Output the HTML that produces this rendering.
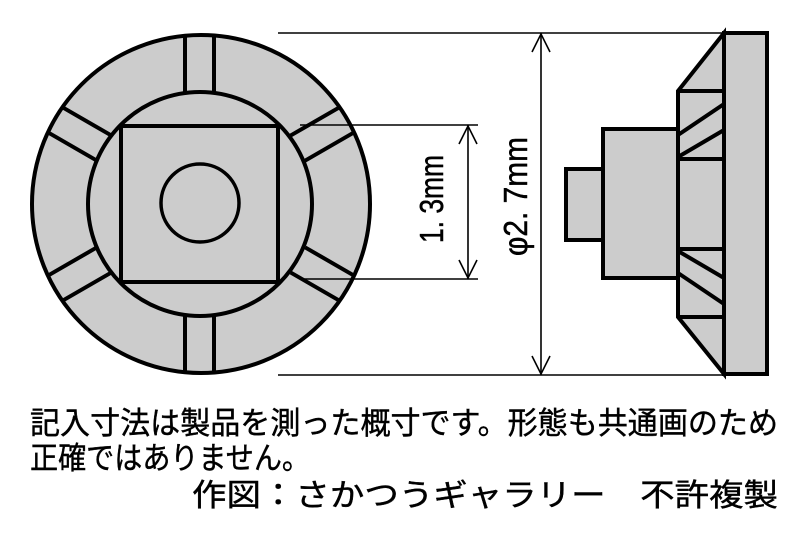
<!DOCTYPE html>
<html><head><meta charset="utf-8"><style>html,body{margin:0;padding:0;background:#fff}svg{display:block}</style></head>
<body>
<svg width="794" height="534" viewBox="0 0 794 534" xmlns="http://www.w3.org/2000/svg">
<g stroke="#000" fill="#ccc" stroke-width="4">
  <circle cx="201" cy="204" r="169"/>
  <g stroke-width="4" fill="none">
    <line x1="185" y1="36" x2="185" y2="93"/><line x1="214" y1="36" x2="214" y2="93"/>
    <line x1="185" y1="316" x2="185" y2="373"/><line x1="214" y1="316" x2="214" y2="373"/>
    <g transform="rotate(-60 201 204)">
      <line x1="186.5" y1="36" x2="186.5" y2="93"/><line x1="215.5" y1="36" x2="215.5" y2="93"/>
      <line x1="186.5" y1="316" x2="186.5" y2="373"/><line x1="215.5" y1="316" x2="215.5" y2="373"/>
    </g>
    <g transform="rotate(60 201 204)">
      <line x1="186.5" y1="36" x2="186.5" y2="93"/><line x1="215.5" y1="36" x2="215.5" y2="93"/>
      <line x1="186.5" y1="316" x2="186.5" y2="373"/><line x1="215.5" y1="316" x2="215.5" y2="373"/>
    </g>
  </g>
  <circle cx="200" cy="204" r="112"/>
  <rect x="121" y="126" width="157" height="156"/>
  <circle cx="200" cy="203" r="39" stroke-width="3.5"/>
</g>
<g stroke="#000" fill="#ccc" stroke-width="4" stroke-linejoin="miter">
  <rect x="566" y="169" width="37" height="71"/>
  <rect x="603" y="129" width="75" height="149"/>
  <polygon points="678,91 724,33 724,374 678,317"/>
  <line x1="678" y1="91" x2="724" y2="91"/>
  <line x1="678" y1="159" x2="724" y2="159"/>
  <line x1="678" y1="249" x2="724" y2="249"/>
  <line x1="678" y1="317" x2="724" y2="317"/>
  <line x1="678" y1="135" x2="724" y2="104"/>
  <line x1="678" y1="157" x2="724" y2="130"/>
  <line x1="678" y1="251" x2="724" y2="278"/>
  <line x1="678" y1="273" x2="724" y2="304"/>
  <rect x="724" y="33" width="43" height="341"/>
</g>
<g stroke="#000" stroke-width="1.6" fill="none">
  <line x1="278" y1="33" x2="724" y2="33"/>
  <line x1="278" y1="375" x2="724" y2="375"/>
  <line x1="300" y1="125" x2="478" y2="125"/>
  <line x1="300" y1="279" x2="478" y2="279"/>
  <line x1="468" y1="125" x2="468" y2="279"/>
  <polyline points="459,144 468,126 477,144"/>
  <polyline points="459,260 468,278 477,260"/>
  <line x1="541" y1="33" x2="541" y2="375"/>
  <polyline points="532,52 541,34 550,52"/>
  <polyline points="532,356 541,374 550,356"/>
</g>
<g font-family="Liberation Sans, Noto Sans CJK JP, sans-serif" fill="#000" stroke="#000" stroke-width="0.5">
  <text transform="translate(443,243) rotate(-90)" font-size="33" textLength="88" lengthAdjust="spacingAndGlyphs">1. 3mm</text>
  <text transform="translate(527,256) rotate(-90)" font-size="33" textLength="119" lengthAdjust="spacingAndGlyphs">φ2. 7mm</text>
</g>
<g font-family="Liberation Sans, Noto Sans CJK JP, sans-serif" font-size="31" fill="#000" stroke="#000" stroke-width="0.4">
  <text x="30" y="434" textLength="748" lengthAdjust="spacingAndGlyphs">記入寸法は製品を測った概寸です。形態も共通画のため</text>
  <text x="30" y="469" textLength="280" lengthAdjust="spacingAndGlyphs">正確ではありません。</text>
  <text x="192" y="506" textLength="586" lengthAdjust="spacingAndGlyphs">作図：さかつうギャラリー　不許複製</text>
</g>
</svg>
</body></html>
